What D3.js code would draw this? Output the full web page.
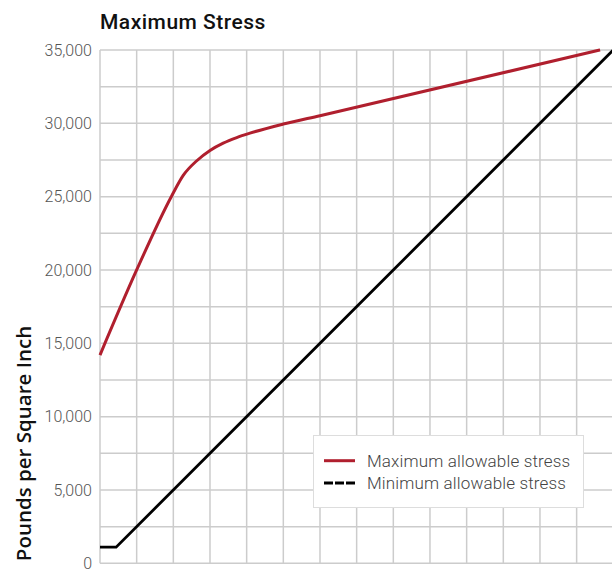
<!DOCTYPE html>
<html>
<head>
<meta charset="utf-8">
<script src="https://cdn.jsdelivr.net/npm/d3@7"></script>
<style>
  html, body { margin: 0; padding: 0; background: #fff; }
  svg { display: block; }
</style>
</head>
<body>
<svg id="chart" width="612" height="569"></svg>
<script>
// ---- data (x in grid-column units, y in psi) ----
const maxStressX = [0, 1, 1.955, 2.27, 2.64, 3, 3.36, 3.73, 4.09, 5, 6, 13.64];
const maxStressY = [14200, 20000, 25050, 26450, 27450, 28150, 28650, 29030, 29330, 29950, 30520, 35000];
const minStressX = [0, 0.44, 14];
const minStressY = [1100, 1100, 35000];
const yTicks = [0, 5000, 10000, 15000, 20000, 25000, 30000, 35000];
const seriesNames = ["Maximum allowable stress", "Minimum allowable stress"];
const seriesColors = ["#b01f2e", "#000000"];
const titleText = "Maximum Stress";
const yLabelText = "Pounds per Square Inch";

(function () {
const svg = d3.select("#chart");
const pLeft = 100, pRight = 613.3, pTop = 50, pBottom = 563.3;
const x = d3.scaleLinear().domain([0, 14]).range([pLeft, pRight]);
const y = d3.scaleLinear().domain([0, 35000]).range([pBottom, pTop]);

// grid
const grid = svg.append("g").attr("stroke", "#cccccc").attr("stroke-width", 1.5);
grid.selectAll("line.v").data(d3.range(0, 15)).join("line").attr("class", "v")
  .attr("x1", d => x(d)).attr("x2", d => x(d))
  .attr("y1", pTop).attr("y2", pBottom);
grid.selectAll("line.h").data(d3.range(0, 35001, 2500)).join("line").attr("class", "h")
  .attr("x1", pLeft).attr("x2", pRight)
  .attr("y1", d => y(d)).attr("y2", d => y(d));

// y axis
const yAxis = svg.append("g").attr("transform", `translate(${pLeft},0)`)
  .call(d3.axisLeft(y).tickValues(yTicks).tickFormat(d3.format(",")).tickSize(0).tickPadding(8));
yAxis.select(".domain").remove();
yAxis.selectAll("text")
  .attr("fill", "#555")
  .style("font-family", "Roboto")
  .style("font-weight", 300)
  .style("font-size", "16px");

// lines
const lineLin = d3.line().x(d => x(d[0])).y(d => y(d[1]));
const lineCurve = d3.line().x(d => x(d[0])).y(d => y(d[1])).curve(d3.curveMonotoneX);
const maxData = maxStressX.map((v, i) => [v, maxStressY[i]]);
const minData = minStressX.map((v, i) => [v, minStressY[i]]);

svg.append("path").datum(minData)
  .attr("fill", "none").attr("stroke", seriesColors[1]).attr("stroke-width", 2.8)
  .attr("d", lineLin);
svg.append("path").datum(maxData)
  .attr("fill", "none").attr("stroke", seriesColors[0]).attr("stroke-width", 3)
  .attr("d", lineCurve);

// title
svg.append("text").attr("x", 100).attr("y", 29)
  .attr("fill", "#111")
  .style("font-family", "Roboto").style("font-weight", 500).style("font-size", "21px")
  .style("letter-spacing", "0.5px")
  .text(titleText);

// y label
svg.append("text").attr("transform", "translate(31,443.5) rotate(-90)")
  .attr("text-anchor", "middle")
  .attr("fill", "#111")
  .style("font-family", "Open Sans").style("font-weight", 600).style("font-size", "20.5px")
  .text(yLabelText);

// legend
const lg = svg.append("g");
lg.append("rect").attr("x", 313.5).attr("y", 435.5).attr("width", 270).attr("height", 72)
  .attr("fill", "#fff").attr("stroke", "#dddddd").attr("stroke-width", 1);
const ly = [460.7, 483];
seriesNames.forEach((name, i) => {
  lg.append("line").attr("x1", 324).attr("x2", 355).attr("y1", ly[i]).attr("y2", ly[i])
    .attr("stroke", seriesColors[i]).attr("stroke-width", 3)
    .attr("stroke-dasharray", i === 1 ? "9,2" : null);
  lg.append("text").attr("x", 367).attr("y", ly[i] + 5.8)
    .attr("fill", "#444")
    .style("font-family", "Roboto").style("font-weight", 300).style("font-size", "17px")
    .style("letter-spacing", "0.15px")
    .text(name);
});
})();
</script>
</body>
</html>
